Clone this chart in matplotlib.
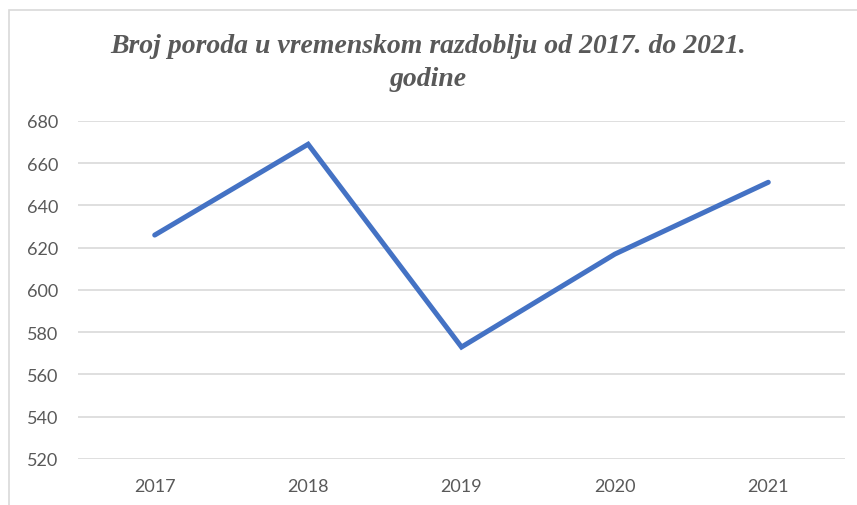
import matplotlib.pyplot as plt
from matplotlib.patches import Rectangle

# Data
years = ["2017", "2018", "2019", "2020", "2021"]
births = [626, 669, 573, 617, 651]
y_ticks = [520, 540, 560, 580, 600, 620, 640, 660, 680]

title = "Broj poroda u vremenskom razdoblju od 2017. do 2021.\ngodine"

fig = plt.figure(figsize=(8.57, 5.06), dpi=100)
ax = fig.add_axes([78 / 857, 1 - 460 / 506, (845 - 78) / 857, (460 - 122) / 506])

# outer chart border (cut off on the right and bottom like the screenshot)
fig.patches.append(Rectangle((9 / 857, -0.1), 1.2, 1 - 11 / 506 + 0.1,
                             transform=fig.transFigure, fill=False,
                             edgecolor="#d9d9d9", linewidth=1.2))

x = list(range(len(years)))
ax.plot(x, births, color="#4472c4", linewidth=3.6, solid_joinstyle="miter",
        solid_capstyle="round")

ax.set_xlim(-0.5, len(years) - 0.5)
ax.set_ylim(520, 680)
ax.set_yticks(y_ticks)
ax.set_xticks(x)
ax.set_xticklabels(years)
ax.grid(axis="y", color="#d9d9d9", linewidth=1.2)
ax.set_axisbelow(True)
for s in ax.spines.values():
    s.set_visible(False)
ax.tick_params(length=0, labelsize=13, labelcolor="#595959", pad=14)
for lab in ax.get_xticklabels() + ax.get_yticklabels():
    lab.set_family("Lato")

fig.text(0.5, 1 - 63 / 506, title, ha="center", va="center",
         fontsize=20, fontweight="bold", fontstyle="italic",
         family="Liberation Serif", color="#595959", linespacing=1.38)

fig.savefig("out.png", dpi=100)
